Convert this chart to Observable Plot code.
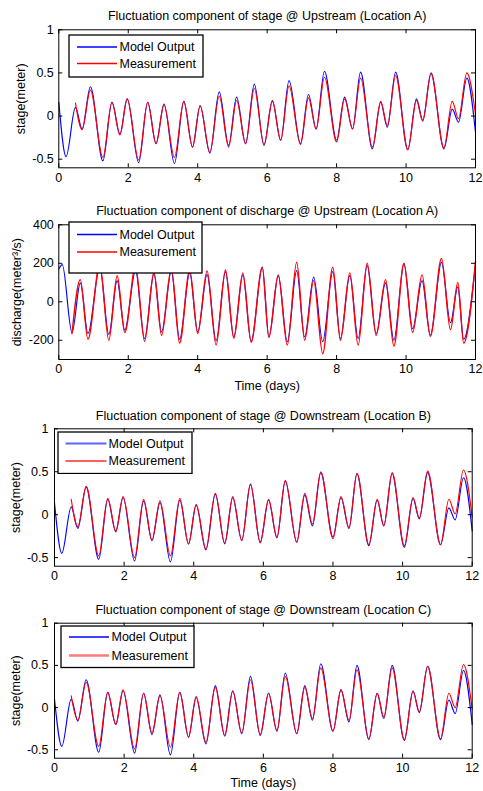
<!DOCTYPE html>
<html>
<head>
<meta charset="utf-8">
<script src="https://cdn.jsdelivr.net/npm/d3@7"></script>
<script src="https://cdn.jsdelivr.net/npm/@observablehq/plot@0.6"></script>
<style>
  html, body { margin: 0; padding: 0; background: #fff; }
  #root { position: relative; width: 483px; height: 791px; background: #fff; font-family: "Liberation Sans", Arial, Helvetica, sans-serif; }
  .panel { position: absolute; left: 0; width: 483px; }
  .panel > svg { display: block; }
  .legend { position: absolute; display: block; }
</style>
</head>
<body>
<div id="root"></div>
<script>
// ---------- data ----------
const xTicks = [0, 2, 4, 6, 8, 10, 12];
const stageTicks = [-0.5, 0, 0.5, 1];
const dischargeTicks = [-200, 0, 200, 400];
const seriesNames = ["Model Output", "Measurement"];
const titles = [
  "Fluctuation component of stage @ Upstream (Location A)",
  "Fluctuation component of discharge @ Upstream (Location A)",
  "Fluctuation component of stage @ Downstream (Location B)",
  "Fluctuation component of stage @ Downstream (Location C)"
];
const yLabels = ["stage(meter)", "discharge(meter\u00B3/s)", "stage(meter)", "stage(meter)"];
const xLabel = "Time (days)";

// times (days) of the turning points of the stage records
const stageDays = [0, 0.21, 0.48, 0.67, 0.91, 1.27, 1.53, 1.76, 1.97, 2.30, 2.56, 2.80,
  3.03, 3.33, 3.60, 3.85, 4.07, 4.35, 4.62, 4.89, 5.12, 5.38, 5.63, 5.91,
  6.15, 6.39, 6.63, 6.96, 7.19, 7.41, 7.65, 8.00, 8.23, 8.46, 8.69, 9.03,
  9.27, 9.46, 9.70, 10.05, 10.30, 10.48, 10.72, 11.09, 11.33, 11.51, 11.75, 12.0];

const stageModelA = [0.16, -0.47, 0.10, -0.15, 0.34, -0.52, 0.16, -0.21, 0.20, -0.54, 0.16, -0.32,
  0.14, -0.55, 0.17, -0.36, 0.12, -0.43, 0.28, -0.34, 0.22, -0.32, 0.37, -0.34,
  0.18, -0.28, 0.41, -0.32, 0.25, -0.15, 0.52, -0.28, 0.22, -0.15, 0.51, -0.38,
  0.16, -0.13, 0.51, -0.39, 0.20, -0.05, 0.50, -0.38, 0.08, -0.07, 0.44, -0.19];
const stageMeasA = [null, null, 0.15, -0.16, 0.30, -0.48, 0.16, -0.22, 0.20, -0.51, 0.16, -0.32,
  0.13, -0.48, 0.17, -0.36, 0.12, -0.42, 0.23, -0.36, 0.18, -0.32, 0.32, -0.33,
  0.17, -0.28, 0.35, -0.33, 0.21, -0.15, 0.45, -0.30, 0.20, -0.15, 0.44, -0.36,
  0.17, -0.11, 0.47, -0.39, 0.18, -0.06, 0.49, -0.37, 0.17, -0.03, 0.50, 0.02];

const stageModelB = [0.14, -0.45, 0.09, -0.16, 0.32, -0.52, 0.18, -0.20, 0.20, -0.54, 0.16, -0.30,
  0.14, -0.55, 0.17, -0.34, 0.11, -0.41, 0.24, -0.34, 0.20, -0.30, 0.35, -0.32,
  0.17, -0.27, 0.39, -0.32, 0.23, -0.13, 0.49, -0.26, 0.20, -0.16, 0.48, -0.36,
  0.17, -0.13, 0.48, -0.38, 0.19, -0.05, 0.49, -0.35, 0.08, -0.06, 0.43, -0.19];
const stageMeasB = [null, null, 0.18, -0.14, 0.33, -0.48, 0.19, -0.19, 0.21, -0.50, 0.18, -0.30,
  0.16, -0.48, 0.19, -0.34, 0.12, -0.40, 0.25, -0.33, 0.21, -0.30, 0.36, -0.33,
  0.18, -0.26, 0.40, -0.32, 0.25, -0.11, 0.50, -0.28, 0.21, -0.15, 0.48, -0.35,
  0.18, -0.13, 0.49, -0.36, 0.20, -0.04, 0.51, -0.35, 0.18, 0.01, 0.52, -0.03];

const stageModelC = [0.10, -0.46, 0.10, -0.16, 0.33, -0.53, 0.18, -0.20, 0.20, -0.54, 0.17, -0.32,
  0.15, -0.56, 0.18, -0.35, 0.12, -0.43, 0.26, -0.33, 0.20, -0.31, 0.37, -0.33,
  0.17, -0.28, 0.41, -0.31, 0.26, -0.15, 0.52, -0.28, 0.21, -0.17, 0.50, -0.38,
  0.17, -0.13, 0.50, -0.39, 0.20, -0.06, 0.49, -0.38, 0.09, -0.07, 0.44, -0.20];
const stageMeasC = [null, null, 0.14, -0.15, 0.30, -0.46, 0.18, -0.20, 0.21, -0.49, 0.17, -0.30,
  0.14, -0.47, 0.18, -0.35, 0.13, -0.41, 0.24, -0.34, 0.19, -0.30, 0.33, -0.32,
  0.17, -0.27, 0.37, -0.31, 0.24, -0.13, 0.47, -0.28, 0.21, -0.15, 0.45, -0.37,
  0.17, -0.11, 0.47, -0.38, 0.19, -0.05, 0.49, -0.37, 0.17, 0.00, 0.51, -0.02];

// discharge turning points
const dischargeDays = [0, 0.10, 0.38, 0.62, 0.84, 1.18, 1.44, 1.68, 1.90, 2.21, 2.47, 2.74,
  2.96, 3.24, 3.48, 3.77, 4.00, 4.27, 4.53, 4.80, 5.04, 5.30, 5.54, 5.86,
  6.05, 6.32, 6.58, 6.85, 7.08, 7.34, 7.60, 7.89, 8.11, 8.38, 8.62, 8.88,
  9.14, 9.41, 9.65, 9.94, 10.19, 10.46, 10.70, 11.02, 11.28, 11.49, 11.66, 12.0];
const dischargeModelA = [170, 193, -160, 98, -165, 179, -170, 110, -148, 162, -191, 145,
  -157, 157, -195, 150, -157, 141, -203, 157, -183, 140, -208, 179,
  -183, 136, -208, 162, -183, 128, -208, 157, -191, 136, -191, 188,
  -165, 98, -200, 197, -140, 110, -174, 205, -109, 76, -195, 197];
const dischargeMeasA = [null, null, -165, 115, -195, 195, -200, 135, -160, 185, -205, 155,
  -175, 175, -215, 165, -165, 160, -225, 165, -190, 150, -210, 180,
  -185, 140, -225, 205, -200, 110, -270, 180, -200, 150, -225, 200,
  -175, 115, -230, 200, -160, 140, -180, 225, -145, 100, -215, 210];

// ---------- drawing ----------
const FONT = '"Liberation Sans", Arial, Helvetica, sans-serif';
const root = document.getElementById("root");

function panel(cfg) {
  const W = 483 - cfg.ml - cfg.mr;
  const H = cfg.height - cfg.mt - cfg.mb;
  const model = cfg.days.map((d, i) => ({d, v: cfg.model[i]}));
  const meas = cfg.days.map((d, i) => ({d, v: cfg.meas[i]}));
  const fmt = d => String(d);
  const marks = [
    Plot.line(model, {x: "d", y: "v", stroke: "#0000ff", strokeWidth: 1.15, curve: "monotone-x"}),
    Plot.line(meas, {x: "d", y: "v", stroke: "#ff0000", strokeWidth: cfg.measWidth || 1.15, curve: "monotone-x"}),
    Plot.frame({stroke: "#000", strokeWidth: 1}),
    Plot.ruleX(xTicks, {x: d => d, insetTop: H - 4, stroke: "#000"}),
    Plot.ruleX(xTicks, {x: d => d, insetBottom: H - 4, stroke: "#000"}),
    Plot.ruleY(cfg.yTicks, {y: d => d, insetRight: W - 4, stroke: "#000"}),
    Plot.ruleY(cfg.yTicks, {y: d => d, insetLeft: W - 4, stroke: "#000"}),
    Plot.axisX(xTicks, {tickSize: 0, tickPadding: 5, tickFormat: fmt, label: null, fontSize: 12.5}),
    Plot.axisY(cfg.yTicks, {tickSize: 0, tickPadding: cfg.yPad, tickFormat: fmt, label: null, fontSize: 12.5}),
    Plot.text([cfg.title], {frameAnchor: "top", lineAnchor: "middle", textAnchor: "middle", dy: cfg.titleDy, fontSize: 12.5, text: d => d}),
    Plot.text([cfg.yLabel], {frameAnchor: "left", textAnchor: "middle", lineAnchor: "middle", rotate: -90, dx: cfg.yLabelDx, fontSize: 12.5, text: d => d})
  ];
  if (cfg.xLabel) marks.push(Plot.text([cfg.xLabel], {frameAnchor: "bottom", lineAnchor: "middle", textAnchor: "middle", dy: cfg.xLabelDy, fontSize: 12.5, text: d => d}));
  const svg = Plot.plot({
    width: 483, height: cfg.height,
    marginTop: cfg.mt, marginBottom: cfg.mb, marginLeft: cfg.ml, marginRight: cfg.mr,
    style: {fontFamily: FONT, fontSize: "12.5px", background: "transparent", color: "#000", overflow: "visible"},
    x: {domain: [0, 12]},
    y: {domain: cfg.yDomain},
    marks
  });
  const div = document.createElement("div");
  div.className = "panel";
  div.style.top = cfg.top + "px";
  div.style.height = cfg.height + "px";
  div.appendChild(svg);

  // legend box (drawn as a small inline svg over the axes)
  const lg = cfg.legend;
  const colors = ["#0000ff", "#ff0000"];
  const lsvg = d3.create("svg")
    .attr("class", "legend")
    .attr("width", lg.w + 2).attr("height", lg.h + 2)
    .style("left", (lg.left - 1) + "px").style("top", (lg.top - 1) + "px");
  lsvg.append("rect").attr("x", 1).attr("y", 1).attr("width", lg.w).attr("height", lg.h)
    .attr("fill", "#fff").attr("stroke", "#000").attr("stroke-width", 1.3);
  seriesNames.forEach((name, i) => {
    const y = 1 + lg.rows[i];
    lsvg.append("line").attr("x1", 1 + lg.s0).attr("x2", 1 + lg.s1).attr("y1", y).attr("y2", y)
      .attr("stroke", lg.sc[i] || colors[i]).attr("stroke-width", lg.sw[i]);
    lsvg.append("text").attr("x", 1 + lg.tx).attr("y", y).attr("dy", "0.35em")
      .attr("font-family", FONT).attr("font-size", 12.5).attr("fill", "#000").text(name);
  });
  div.appendChild(lsvg.node());
  root.appendChild(div);
}

panel({top: 0, height: 195, mt: 29.3, mb: 27.7, ml: 58.3, mr: 8, yDomain: [-0.6, 1], yTicks: stageTicks,
  days: stageDays, model: stageModelA, meas: stageMeasA, title: titles[0], yLabel: yLabels[0],
  titleDy: -14.3, yLabelDx: -38, yPad: 5,
  legend: {left: 68.5, top: 34.5, w: 134, h: 42, rows: [12, 28.5], s0: 8, s1: 48, tx: 50.5, sw: [1.3, 1.3], sc: []}});

panel({top: 195, height: 200, mt: 29.3, mb: 36, ml: 58.3, mr: 8, yDomain: [-300, 400], yTicks: dischargeTicks,
  days: dischargeDays, model: dischargeModelA, meas: dischargeMeasA, title: titles[1], yLabel: yLabels[1],
  titleDy: -14.3, yLabelDx: -42, yPad: 5, xLabel: xLabel, xLabelDy: 26, measWidth: 1.4,
  legend: {left: 68.5, top: 26.5, w: 133, h: 51, rows: [12.5, 30], s0: 8, s1: 48, tx: 50.5, sw: [1.3, 1.5], sc: []}});

panel({top: 400, height: 195, mt: 28.3, mb: 29.3, ml: 54, mr: 11.3, yDomain: [-0.6, 1], yTicks: stageTicks,
  days: stageDays, model: stageModelB, meas: stageMeasB, title: titles[2], yLabel: yLabels[2],
  titleDy: -13.3, yLabelDx: -39, yPad: 6,
  legend: {left: 57.5, top: 31.5, w: 134, h: 41.5, rows: [11.5, 29], s0: 7.5, s1: 48.5, tx: 50.5, sw: [2.2, 2.2], sc: ["#5a66ff", "#ff6060"]}});

panel({top: 595, height: 196, mt: 27.7, mb: 33.3, ml: 54, mr: 11.3, yDomain: [-0.6, 1], yTicks: stageTicks,
  days: stageDays, model: stageModelC, meas: stageMeasC, title: titles[3], yLabel: yLabels[3],
  titleDy: -13.7, yLabelDx: -39, yPad: 6, xLabel: xLabel, xLabelDy: 24.5,
  legend: {left: 60.5, top: 31.2, w: 133, h: 41.5, rows: [11, 29.5], s0: 8, s1: 48, tx: 50.5, sw: [1.3, 2.6], sc: ["#0000ff", "#ff7a7a"]}});
</script>
</body>
</html>
